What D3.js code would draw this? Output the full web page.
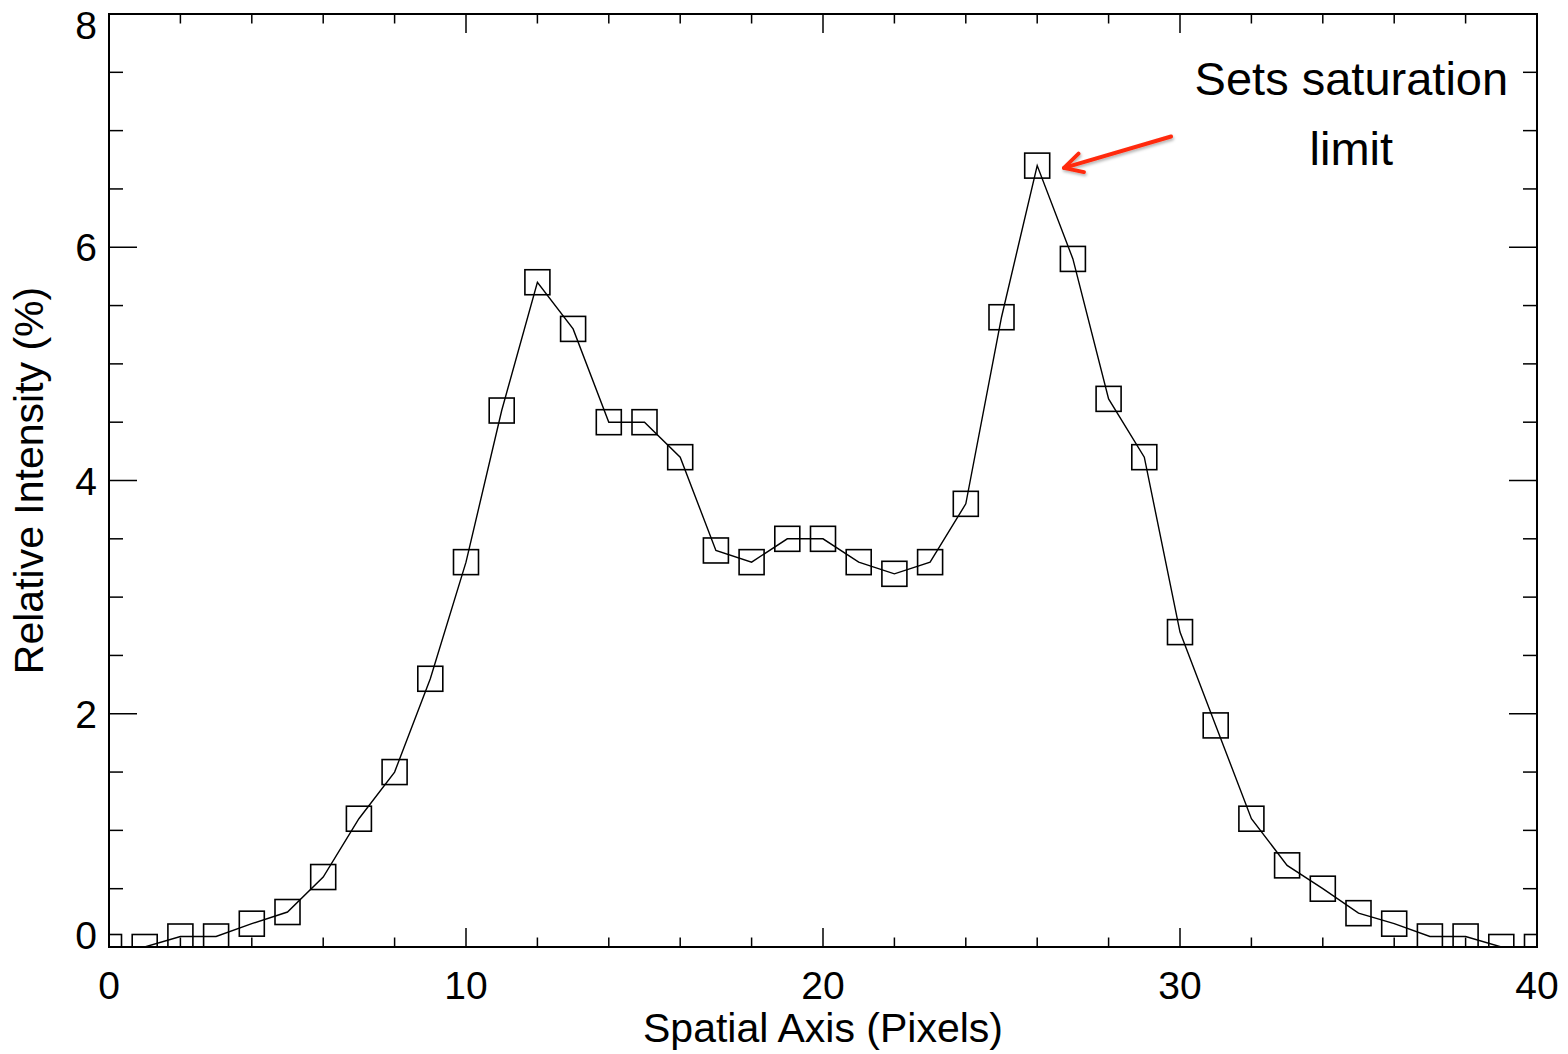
<!DOCTYPE html>
<html>
<head>
<meta charset="utf-8">
<script src="https://cdn.jsdelivr.net/npm/d3@7"></script>
<style>
  body { margin: 0; background: #fff; }
  text { font-family: "Liberation Sans", Arial, Helvetica, sans-serif; fill: #000; }
</style>
</head>
<body>
<script>
// pixel positions along the spatial axis
const pixels = [0, 1, 2, 3, 4, 5, 6, 7, 8, 9, 10, 11, 12, 13, 14, 15, 16, 17, 18, 19, 20,
                21, 22, 23, 24, 25, 26, 27, 28, 29, 30, 31, 32, 33, 34, 35, 36, 37, 38, 39, 40];
// relative intensity (%)
const intensity = [0.0, 0.0, 0.09, 0.09, 0.2, 0.3, 0.6, 1.1, 1.5, 2.3, 3.3, 4.6, 5.7, 5.3, 4.5, 4.5, 4.2,
                   3.4, 3.3, 3.5, 3.5, 3.3, 3.2, 3.3, 3.8, 5.4, 6.7, 5.9, 4.7, 4.2, 2.7, 1.9, 1.1,
                   0.7, 0.5, 0.29, 0.2, 0.09, 0.09, 0.0, 0.0];
const xTicks = [0, 10, 20, 30, 40];
const yTicks = [0, 2, 4, 6, 8];

const W = 1568, H = 1054;
const margin = { top: 14, right: 31, bottom: 107, left: 109 },
      width = W - margin.left - margin.right,
      height = H - margin.top - margin.bottom;

const svg = d3.select('body').append('svg')
              .attr('width', W)
              .attr('height', H);

const g = svg.append('g')
             .attr('transform', `translate(${margin.left},${margin.top})`);

const x = d3.scaleLinear().domain([0, 40]).range([0, width]);
const y = d3.scaleLinear().domain([0, 8]).range([height, 0]);

g.append('clipPath').attr('id', 'plotclip')
 .append('rect').attr('width', width).attr('height', height);

const data = pixels.map((p, i) => ({ x: p, y: intensity[i] }));

const plot = g.append('g').attr('clip-path', 'url(#plotclip)');

plot.append('path')
    .datum(data)
    .attr('fill', 'none')
    .attr('stroke', '#000')
    .attr('stroke-width', 1.4)
    .attr('d', d3.line().x(d => x(d.x)).y(d => y(d.y)));

const s = 25;
plot.selectAll('.pt')
    .data(data)
    .enter().append('rect')
    .attr('class', 'pt')
    .attr('x', d => x(d.x) - s / 2)
    .attr('y', d => y(d.y) - s / 2)
    .attr('width', s)
    .attr('height', s)
    .attr('fill', 'none')
    .attr('stroke', '#000')
    .attr('stroke-width', 1.6);

// ticks (inward on all four sides, IDL style)
const xMinor = d3.range(0, 40.01, 2);
const yMinor = d3.range(0, 8.01, 0.5);
const ticks = g.append('g').attr('stroke', '#000').attr('stroke-width', 1.5);

xMinor.forEach(v => {
  const len = xTicks.includes(v) ? 19 : 9.5;
  ticks.append('line').attr('x1', x(v)).attr('x2', x(v)).attr('y1', height).attr('y2', height - len);
  ticks.append('line').attr('x1', x(v)).attr('x2', x(v)).attr('y1', 0).attr('y2', len);
});
yMinor.forEach(v => {
  const len = yTicks.includes(v) ? 28 : 14;
  ticks.append('line').attr('y1', y(v)).attr('y2', y(v)).attr('x1', 0).attr('x2', len);
  ticks.append('line').attr('y1', y(v)).attr('y2', y(v)).attr('x1', width).attr('x2', width - len);
});

g.append('rect')
 .attr('width', width).attr('height', height)
 .attr('fill', 'none').attr('stroke', '#000').attr('stroke-width', 2);

// tick labels
g.selectAll('.xl')
 .data(xTicks)
 .enter().append('text')
 .attr('x', d => x(d))
 .attr('y', height + 52)
 .attr('text-anchor', 'middle')
 .style('font-size', '39px')
 .text(d => d);

g.selectAll('.yl')
 .data(yTicks)
 .enter().append('text')
 .attr('x', -12)
 .attr('y', d => y(d) + 14 + (d === 0 ? -12 : d === 8 ? 11 : 0))
 .attr('text-anchor', 'end')
 .style('font-size', '39px')
 .text(d => d);

// axis titles
g.append('text')
 .attr('x', width / 2)
 .attr('y', height + 95)
 .attr('text-anchor', 'middle')
 .style('font-size', '41px')
 .text('Spatial Axis (Pixels)');

g.append('text')
 .attr('transform', `translate(-66,${height / 2}) rotate(-90)`)
 .attr('text-anchor', 'middle')
 .style('font-size', '41px')
 .text('Relative Intensity (%)');

// annotation
g.append('text')
 .attr('x', x(34.8)).attr('y', y(7.305))
 .attr('text-anchor', 'middle')
 .style('font-size', '47px')
 .text('Sets saturation');
g.append('text')
 .attr('x', x(34.8)).attr('y', y(6.705))
 .attr('text-anchor', 'middle')
 .style('font-size', '47px')
 .text('limit');

const defs = svg.append('defs');
const blur = defs.append('filter').attr('id', 'shadow')
  .attr('x', '-20%').attr('y', '-50%').attr('width', '140%').attr('height', '200%');
blur.append('feDropShadow')
  .attr('dx', 1).attr('dy', 2).attr('stdDeviation', 1.5)
  .attr('flood-color', '#000').attr('flood-opacity', 0.3);

defs.append('marker')
   .attr('id', 'head')
   .attr('viewBox', '0 0 10 10')
   .attr('refX', 9).attr('refY', 5)
   .attr('markerWidth', 6).attr('markerHeight', 6)
   .attr('markerUnits', 'strokeWidth')
   .attr('orient', 'auto')
   .append('path')
   .attr('d', 'M1.5,1 L9,5 L1.5,9')
   .attr('fill', 'none')
   .attr('stroke', '#ff2a0f')
   .attr('stroke-width', 1.6)
   .attr('stroke-linecap', 'round')
   .attr('stroke-linejoin', 'round');

g.append('line')
 .attr('x1', x(29.75)).attr('y1', y(6.95))
 .attr('x2', x(26.75)).attr('y2', y(6.68))
 .attr('stroke', '#ff2a0f')
 .attr('stroke-width', 4)
 .attr('stroke-linecap', 'round')
 .attr('filter', 'url(#shadow)')
 .attr('marker-end', 'url(#head)');
</script>
</body>
</html>
